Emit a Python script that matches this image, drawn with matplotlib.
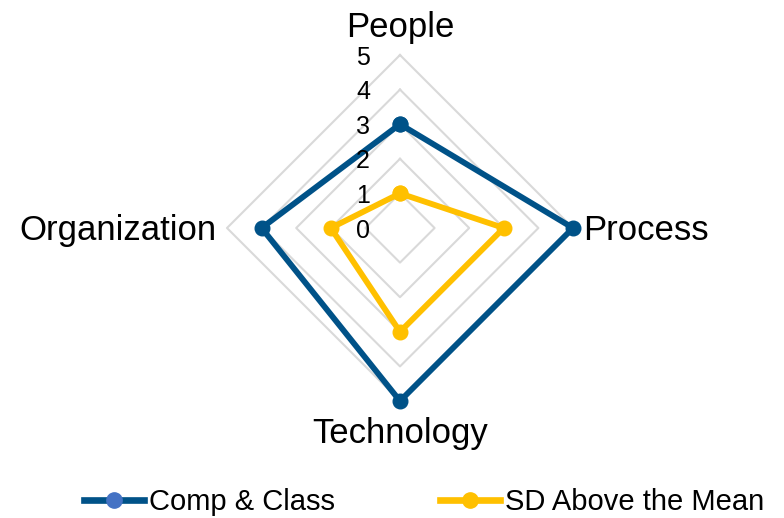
import numpy as np
import matplotlib
matplotlib.use("Agg")
import matplotlib.pyplot as plt
from matplotlib.lines import Line2D

categories = ["People", "Process", "Technology", "Organization"]
comp_class = [3, 5, 5, 4]
sd_above = [1, 3, 3, 2]
ticks = [0, 1, 2, 3, 4, 5]
series_names = ["Comp & Class", "SD Above the Mean"]

blue = "#005288"
blue_marker = "#4472C4"
yellow = "#FFC000"
grid_c = "#D9D9D9"
font = "Liberation Sans"

W, H = 784, 518
unit = 34.6  # px per value unit
cx, cy = 400, 228

fig = plt.figure(figsize=(W / 100, H / 100), dpi=100)
ax = fig.add_axes([0, 0, 1, 1])
ax.set_xlim(-cx / unit, (W - cx) / unit)
ax.set_ylim(-(H - cy) / unit, cy / unit)
ax.axis("off")

n = len(categories)
angles = np.pi / 2 - np.arange(n) * 2 * np.pi / n
dx, dy = np.cos(angles), np.sin(angles)

def xy(vals):
    v = np.asarray(vals, float)
    x = np.append(v * dx, v[0] * dx[0])
    y = np.append(v * dy, v[0] * dy[0])
    return x, y

# grid rings
for t in ticks[1:]:
    gx, gy = xy([t] * n)
    ax.plot(gx, gy, color=grid_c, lw=1.5, zorder=1)

# series
for vals, col in [(comp_class, blue), (sd_above, yellow)]:
    x, y = xy(vals)
    ax.plot(x, y, color=col, lw=4.2, marker="o", ms=10.5, mfc=col, mec=col,
            zorder=3, solid_joinstyle="miter")

# tick labels
for t in ticks:
    ax.text(-0.87, t - 0.28, str(t), ha="right", va="baseline",
            fontsize=18, family=font, color="black", zorder=4)

# category labels
ax.text(0, 5.52, categories[0], ha="center", va="baseline", fontsize=25, family=font)
ax.text(5.29, -0.36, categories[1], ha="left", va="baseline", fontsize=25, family=font)
ax.text(0, -6.21, categories[2], ha="center", va="baseline", fontsize=25, family=font)
ax.text(-5.29, -0.36, categories[3], ha="right", va="baseline", fontsize=25, family=font)

handles = [
    Line2D([], [], color=blue, lw=4.8, marker="o", ms=11, mfc=blue_marker, mec=blue_marker),
    Line2D([], [], color=yellow, lw=4.8, marker="o", ms=11, mfc=yellow, mec=yellow),
]
leg = fig.legend(handles, series_names, loc="center", bbox_to_anchor=(424 / W, 1 - 502 / H),
                 ncol=2, frameon=False, handlelength=2.05, handletextpad=0.17,
                 columnspacing=3.6, prop={"family": font, "size": 21})

fig.savefig("out.png", dpi=100)
